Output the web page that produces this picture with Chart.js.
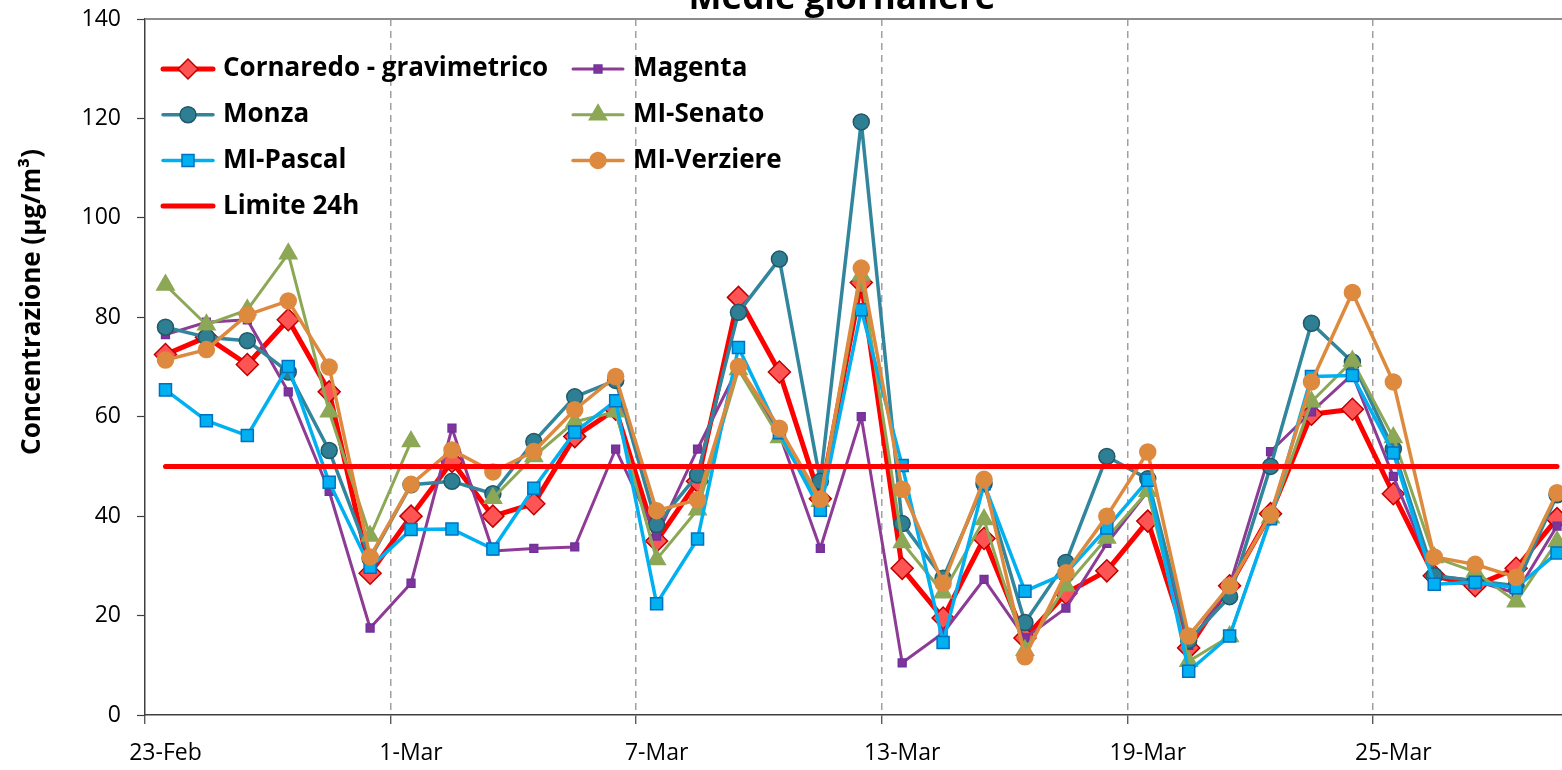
<!DOCTYPE html>
<html>
<head>
<meta charset="utf-8">
<script src="https://cdn.jsdelivr.net/npm/chart.js@4.4.1/dist/chart.umd.min.js"></script>
<style>
  html, body { margin: 0; padding: 0; background: #fff; overflow: hidden; }
  #wrap { width: 1562px; height: 770px; overflow: hidden; position: relative; }
  #pm { position: absolute; left: 0; top: 0; width: 1590px; height: 770px; }
</style>
</head>
<body>
<div id="wrap"><canvas id="pm" width="1590" height="770"></canvas></div>
<script>
// giorni di misura
const categories = [
  '23-Feb', '24-Feb', '25-Feb', '26-Feb', '27-Feb', '28-Feb',
  '1-Mar', '2-Mar', '3-Mar', '4-Mar', '5-Mar', '6-Mar',
  '7-Mar', '8-Mar', '9-Mar', '10-Mar', '11-Mar', '12-Mar',
  '13-Mar', '14-Mar', '15-Mar', '16-Mar', '17-Mar', '18-Mar',
  '19-Mar', '20-Mar', '21-Mar', '22-Mar', '23-Mar', '24-Mar',
  '25-Mar', '26-Mar', '27-Mar', '28-Mar', '29-Mar'
];

// medie giornaliere (µg/m³)
const cornaredo = [72.5, 76, 70.5, 79.5, 65, 28.5, 40, 51, 40, 42.5, 56, 61.5, 35, 47, 84, 69, 43.5, 87,
  29.5, 19.5, 35.5, 15.5, 24.5, 29, 39, 13.5, 26, 40.5, 60.5, 61.5, 44.5, 28, 26, 29.5, 39.5];
const magenta = [76.5, 79, 79.5, 65, 45, 17.5, 26.5, 57.7, 33, 33.5, 33.8, 53.5, 36, 53.5, 70, 56.5, 33.5, 60,
  10.5, 16.5, 27.3, 15.5, 21.5, 34.5, 45, 14, 26, 53, 61, 68.5, 48, 28, 27, 24.5, 38];
const monza = [78, 76, 75.3, 69, 53.2, 31.5, 46.3, 47, 44.5, 55, 64, 67.3, 38.3, 48.3, 81, 91.7, 47, 119.3,
  38.5, 27.5, 46.5, 18.6, 30.7, 52, 47.5, 15, 23.8, 50, 78.8, 71, 53.5, 28, 27, 26, 44.3];
const miSenato = [86.5, 78.5, 81.5, 92.8, 61, 36, 55, null, 43.6, 52, 59, 61, 31.3, 41.3, 69.5, 55.8, 43, 88.5,
  34.7, 24.6, 39.3, 13, 26, 35.6, 45, 10.8, 15.8, 39.7, 63, 71.2, 55.8, 31.7, 28.8, 22.8, 34.9];
const miPascal = [65.4, 59.2, 56.2, 70.1, 46.8, 29.7, 37.3, 37.4, 33.4, 45.6, 56.9, 63.2, 22.4, 35.4, 73.9, 56.8, 41.2, 81.5,
  50.2, 14.6, 46.5, 24.9, 28.5, 37.6, 47.2, 8.8, 15.9, 39.5, 68.1, 68.3, 52.7, 26.3, 26.7, 25.6, 32.6];
const miVerziere = [71.4, 73.5, 80.5, 83.3, 70, 31.8, 46.4, 53.3, 48.9, 53, 61.4, 68.1, 41.1, 43.3, 70.1, 57.7, 43.4, 89.9,
  45.4, 26.5, 47.4, 11.7, 28.6, 40, 52.9, 15.9, 26, 40.3, 67, 85, 67, 31.8, 30.3, 27.7, 44.7];
const limite24h = [50, 50, 50, 50, 50, 50, 50, 50, 50, 50, 50, 50, 50, 50, 50, 50, 50, 50,
  50, 50, 50, 50, 50, 50, 50, 50, 50, 50, 50, 50, 50, 50, 50, 50, 50];

const yTicks = { min: 0, max: 140, step: 20 };

const FONT = '"Open Sans", "Noto Sans", sans-serif';

function serie(label, data, color, width, style, radius, fill, border, order) {
  return {
    label: label,
    data: data,
    borderColor: color,
    backgroundColor: color,
    borderWidth: width,
    borderCapStyle: 'round',
    borderJoinStyle: 'round',
    pointStyle: style,
    pointRadius: radius,
    pointBackgroundColor: fill,
    pointBorderColor: border,
    pointBorderWidth: 1.5,
    tension: 0,
    order: order
  };
}

const datasets = [
  serie('Cornaredo - gravimetrico', cornaredo, '#FF0000', 5, 'rectRot', 11, '#FF5454', '#C00000', 6),
  serie('Magenta', magenta, '#8E3B96', 3, 'rect', 5.5, '#7F3598', '#7030A0', 5),
  serie('Monza', monza, '#31859C', 3.5, 'circle', 8, '#2E7F94', '#215968', 4),
  serie('MI-Senato', miSenato, '#8CA755', 3, 'triangle', 10, '#8CA755', '#8CA755', 3),
  serie('MI-Pascal', miPascal, '#00B0F0', 3.5, 'rect', 8.5, '#00B0F0', '#0070C0', 2),
  serie('MI-Verziere', miVerziere, '#DD8A3F', 3.5, 'circle', 8, '#DD8A3F', '#DD8A3F', 1),
  serie('Limite 24h', limite24h, '#FF0000', 5, 'circle', 0, '#FF0000', '#FF0000', 0)
];

// titolo, titolo asse Y, bordo superiore e legenda dentro l'area del grafico
const decorazioni = {
  id: 'decorazioni',
  beforeDatasetsDraw(chart) {
    const { ctx, chartArea: a } = chart;
    ctx.save();
    ctx.strokeStyle = '#8C8C8C';
    ctx.lineWidth = 2;
    ctx.beginPath();
    ctx.moveTo(a.left, a.top);
    ctx.lineTo(a.right, a.top);
    ctx.stroke();
    ctx.restore();
  },
  afterDraw(chart) {
    const { ctx, chartArea: a } = chart;
    ctx.save();
    ctx.fillStyle = '#000';

    ctx.font = 'bold 35px ' + FONT;
    ctx.textAlign = 'center';
    ctx.textBaseline = 'alphabetic';
    ctx.fillText('Medie giornaliere', 842, 9);

    ctx.save();
    ctx.translate(33, 302);
    ctx.rotate(-Math.PI / 2);
    ctx.font = 'bold 26px ' + FONT;
    ctx.textBaseline = 'middle';
    ctx.fillText('Concentrazione (µg/m³)', 0, 0);
    ctx.restore();

    // legenda su due colonne
    const lx = a.left + 18, ly = a.top + 50, colW = 410, rowH = 45.7, segLen = 50;
    ctx.font = 'bold 26px ' + FONT;
    ctx.textAlign = 'left';
    ctx.textBaseline = 'middle';
    chart.data.datasets.forEach((ds, i) => {
      const x0 = lx + (i % 2) * colW;
      const y = ly + Math.floor(i / 2) * rowH;
      ctx.strokeStyle = ds.borderColor;
      ctx.lineWidth = ds.borderWidth;
      ctx.lineCap = 'round';
      ctx.setLineDash([]);
      ctx.beginPath();
      ctx.moveTo(x0, y);
      ctx.lineTo(x0 + segLen, y);
      ctx.stroke();
      if (ds.pointRadius > 0) {
        ctx.fillStyle = ds.pointBackgroundColor;
        ctx.strokeStyle = ds.pointBorderColor;
        ctx.lineWidth = ds.pointBorderWidth;
        Chart.helpers.drawPoint(ctx, {
          pointStyle: ds.pointStyle,
          radius: Math.min(ds.pointRadius, 10),
          borderWidth: ds.pointBorderWidth,
          rotation: 0
        }, x0 + segLen / 2, y);
      }
      ctx.fillStyle = '#000';
      ctx.fillText(ds.label, x0 + segLen + 10, y);
    });
    ctx.restore();
  }
};

new Chart(document.getElementById('pm'), {
  type: 'line',
  data: { labels: categories, datasets: datasets },
  options: {
    responsive: false,
    animation: false,
    events: [],
    layout: { padding: { top: 19, right: 0, bottom: 0, left: 0 } },
    plugins: {
      legend: { display: false },
      title: { display: false },
      tooltip: { enabled: false }
    },
    scales: {
      x: {
        type: 'category',
        offset: true,
        grid: {
          offset: true,
          color: c => (c.index > 0 && c.index % 6 === 0) ? '#A0A0A0' : 'rgba(0,0,0,0)',
          lineWidth: 1.5,
          tickColor: c => (c.index % 6 === 0) ? '#404040' : 'rgba(0,0,0,0)',
          tickLength: 9,
          tickWidth: 1.2
        },
        border: { color: '#404040', width: 1.5, dash: [7, 5] },
        ticks: {
          autoSkip: false,
          maxRotation: 0,
          padding: 16,
          color: '#000',
          font: { family: FONT, size: 23 },
          callback: (v, i) => (i % 6 === 0 ? categories[i] : '')
        },
        afterFit: s => {
          s.height = 55;
          s.paddingRight = 0;
        }
      },
      y: {
        min: yTicks.min,
        max: yTicks.max,
        ticks: {
          stepSize: yTicks.step,
          padding: 16,
          color: '#000',
          font: { family: FONT, size: 23 }
        },
        grid: { drawOnChartArea: false, tickLength: 8, tickColor: '#404040', tickWidth: 1.2 },
        border: { color: '#404040', width: 1.5 },
        afterFit: s => {
          s.width = 145;
          s.paddingTop = 0;
          s.paddingBottom = 0;
        }
      }
    }
  },
  plugins: [decorazioni]
});
</script>
</body>
</html>
